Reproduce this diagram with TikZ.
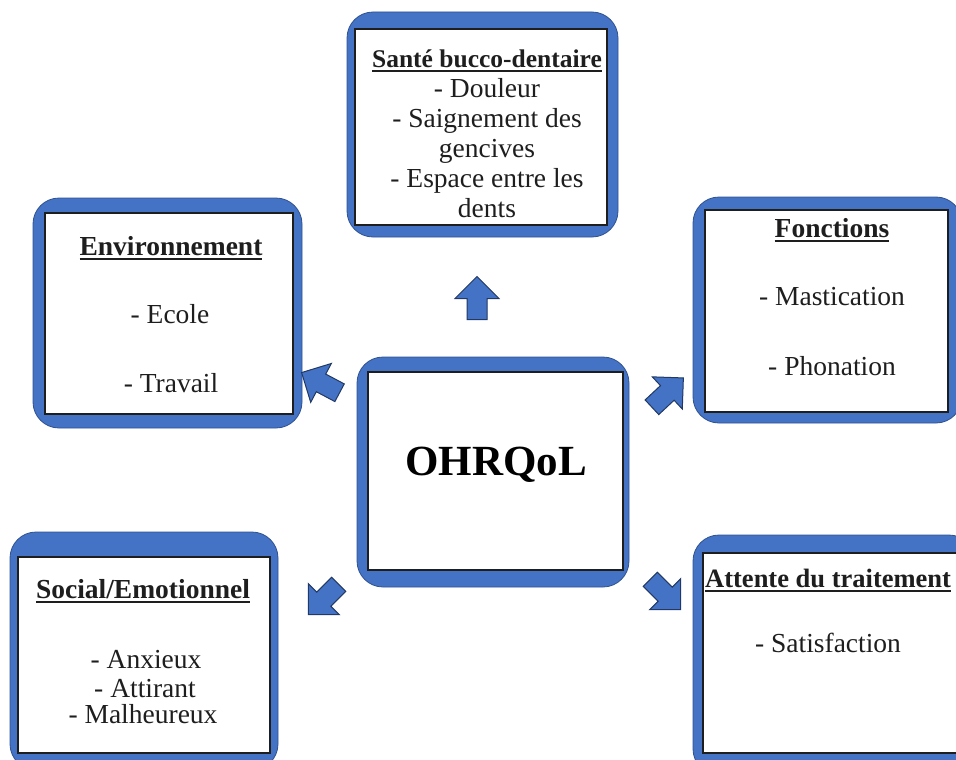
\documentclass[tikz,border=0pt]{standalone}
\usepackage{fontspec}
\setmainfont{Liberation Serif}
\usetikzlibrary{shapes.arrows}
\definecolor{boxblue}{HTML}{4472C4}
\definecolor{boxedge}{HTML}{2F528F}
\definecolor{inkdark}{HTML}{1E1E1E}
\newcommand\myul[1]{\setbox0=\hbox{#1}\rlap{\rule[-5pt]{\wd0}{1.7pt}}\box0}
\begin{document}
\begin{tikzpicture}[x=1pt,y=1pt,
  outerbox/.style={fill=boxblue, draw=boxedge, line width=0.8pt, rounded corners=26pt},
  innerbox/.style={fill=white, draw=inkdark, line width=1.8pt, inner sep=0pt},
  txt/.style={anchor=base, inner sep=0pt, text=inkdark, font=\fontsize{27.5}{30}\selectfont},
  ttl/.style={anchor=base, inner sep=0pt, text=inkdark, font=\bfseries\fontsize{27.5}{30}\selectfont},
  blockarrow/.style={single arrow, draw=boxedge!70!black, fill=boxblue, line width=1pt,
    minimum height=43pt, minimum width=0pt, inner sep=9.5pt, single arrow head extend=12pt}]
\useasboundingbox (0,0) rectangle (956,-760);
\clip (0,0) rectangle (956,-760);

% Santé bucco-dentaire
\path[outerbox] (347,-12) rectangle (618,-237);
\node[innerbox, minimum width=252pt, minimum height=196pt] (sante) at (481,-127) {};
\node[ttl, font=\bfseries\fontsize{25.5}{30}\selectfont] (s0) at (487,-67) {\myul{Santé bucco-dentaire}};
\node[txt] (s1) at (487,-97) {- Douleur};
\node[txt] (s2) at (487,-127) {- Saignement des};
\node[txt] (s3) at (487,-157) {gencives};
\node[txt] (s4) at (487,-187) {- Espace entre les};
\node[txt] (s5) at (487,-217) {dents};

% Environnement
\path[outerbox] (33,-198) rectangle (302,-428);
\node[innerbox, minimum width=248pt, minimum height=201pt] (env) at (169,-313.5) {};
\node[ttl] (e0) at (171,-255) {\myul{Environnement}};
\node[txt] (e1) at (170,-323) {- Ecole};
\node[txt] (e2) at (171,-392) {- Travail};

% Fonctions
\path[outerbox] (693,-197) rectangle (962,-423);
\node[innerbox, minimum width=243pt, minimum height=202pt] (fonc) at (826.5,-311) {};
\node[ttl] (f0) at (832,-237) {\myul{Fonctions}};
\node[txt] (f1) at (832,-305) {- Mastication};
\node[txt] (f2) at (832,-375) {- Phonation};

% OHRQoL
\path[outerbox] (357,-357) rectangle (629,-587);
\node[innerbox, minimum width=255pt, minimum height=198pt] (core) at (495.5,-471) {};
\node[anchor=base, inner sep=0pt, text=black, font=\bfseries\fontsize{43}{48}\selectfont] (coretxt) at (496,-475) {OHRQoL};

% Social/Emotionnel
\path[outerbox] (10,-532) rectangle (278,-770);
\node[innerbox, minimum width=252pt, minimum height=196pt] (soc) at (144,-655) {};
\node[ttl] (o0) at (143,-598) {\myul{Social/Emotionnel}};
\node[txt] (o1) at (146,-668) {- Anxieux};
\node[txt] (o2) at (145,-697) {- Attirant};
\node[txt] (o3) at (143,-723) {- Malheureux};

% Attente du traitement
\path[outerbox] (693,-535) rectangle (975,-775);
\node[innerbox, minimum width=265pt, minimum height=200pt] (att) at (835.5,-653) {};
\node[ttl, anchor=base west, font=\bfseries\fontsize{26.5}{30}\selectfont] (a0) at (705,-587) {\myul{Attente du traitement}};
\node[txt] (a1t) at (828,-652) {- Satisfaction};

% block arrows
\node[blockarrow, rotate=90] (arrS) at (477,-303) {};
\node[blockarrow, rotate=152] (arrE) at (325,-385) {};
\node[blockarrow, rotate=43] (arrF) at (664,-396) {};
\node[blockarrow, rotate=-45] (arrA) at (662,-591) {};
\node[blockarrow, rotate=225] (arrO) at (327,-596) {};
\end{tikzpicture}
\end{document}
